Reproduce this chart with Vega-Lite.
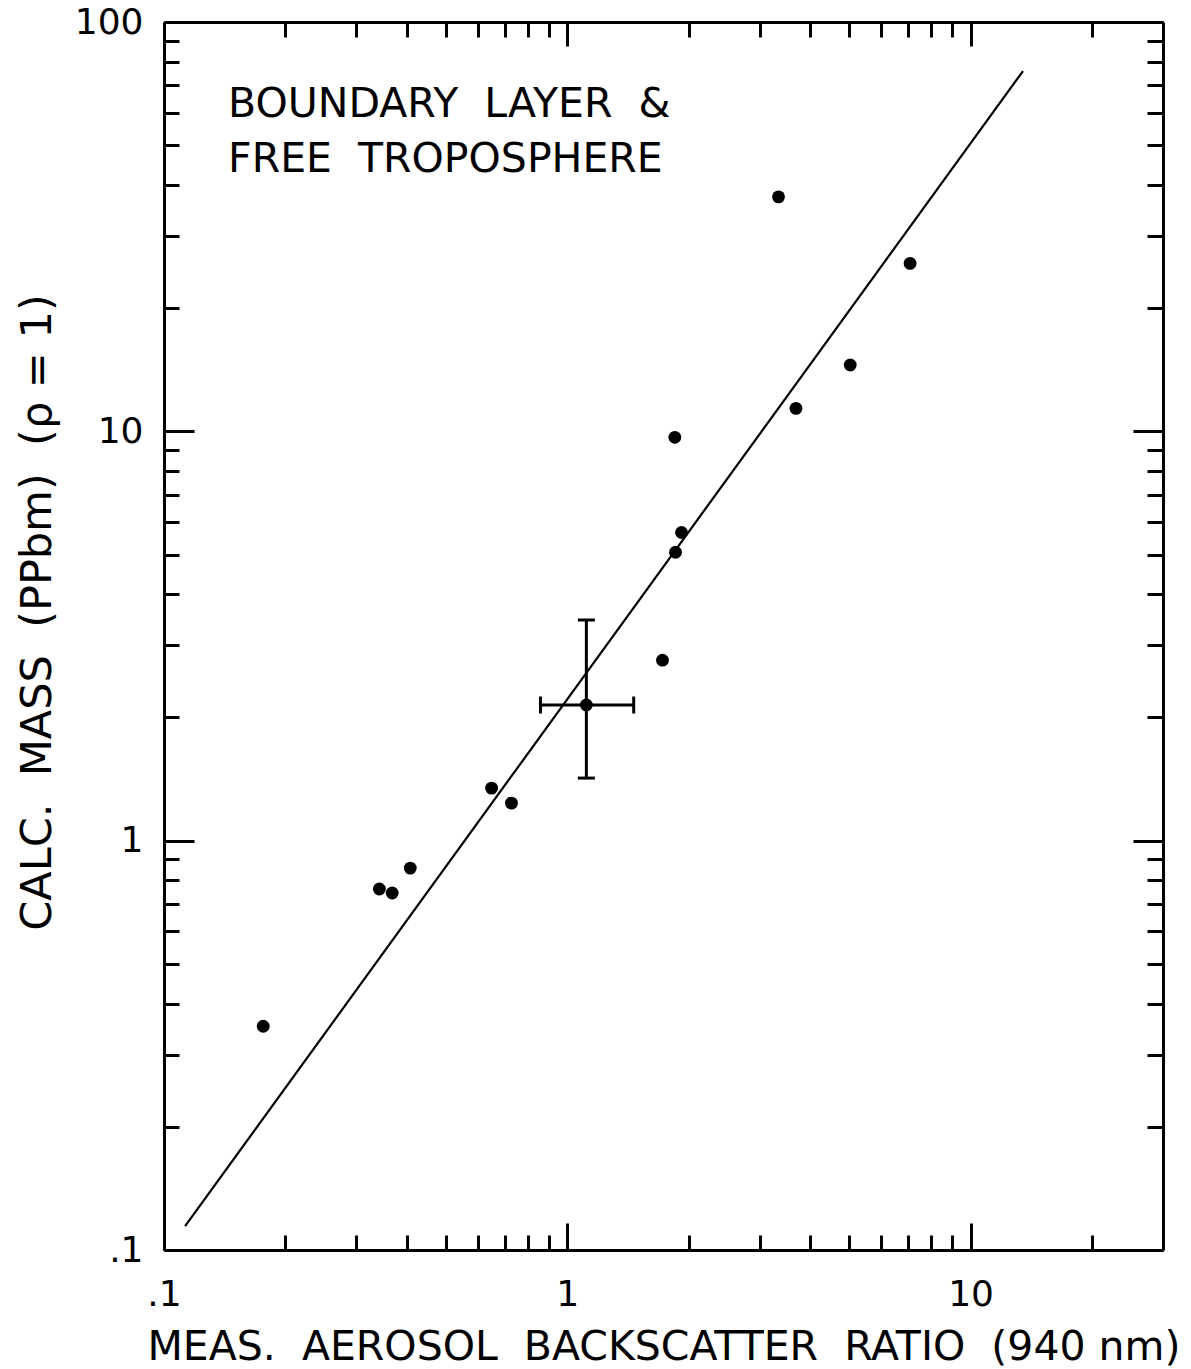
{
  "$schema": "https://vega.github.io/schema/vega-lite/v6.json",
  "width": 999,
  "height": 1228,
  "autosize": {"type": "none"},
  "padding": {"left": 164, "top": 22, "right": 28, "bottom": 119},
  "background": "white",
  "config": {
    "view": {"stroke": null},
    "axis": {
      "domainColor": "black",
      "domainWidth": 3,
      "tickColor": "black",
      "tickWidth": 3,
      "grid": false,
      "labelFont": "DejaVu Sans",
      "labelFontSize": 36,
      "labelColor": "black",
      "labelOverlap": false,
      "labelBound": false,
      "labelFlush": false,
      "titleFont": "DejaVu Sans",
      "titleFontSize": 42,
      "titleFontWeight": "normal",
      "titleColor": "black"
    }
  },
  "datasets": {
    "obs": [
      {"ratio": 0.1762, "mass": 0.352},
      {"ratio": 0.342, "mass": 0.762},
      {"ratio": 0.368, "mass": 0.745},
      {"ratio": 0.408, "mass": 0.857},
      {"ratio": 0.649, "mass": 1.344},
      {"ratio": 0.727, "mass": 1.235},
      {"ratio": 1.115, "mass": 2.145},
      {"ratio": 1.722, "mass": 2.76},
      {"ratio": 1.848, "mass": 9.67},
      {"ratio": 1.855, "mass": 5.065},
      {"ratio": 1.92, "mass": 5.66},
      {"ratio": 3.34, "mass": 37.4},
      {"ratio": 3.69, "mass": 11.38},
      {"ratio": 5.03, "mass": 14.52},
      {"ratio": 7.08, "mass": 25.72}
    ],
    "err": [
      {"ratio": 1.115, "mass": 2.145, "ratio_lo": 0.858, "ratio_hi": 1.461, "mass_lo": 1.422, "mass_hi": 3.46}
    ],
    "fit": [
      {"ratio": 0.1128, "mass": 0.1144},
      {"ratio": 13.49, "mass": 75.9}
    ],
    "note": [
      {"label": "BOUNDARY\u00a0 LAYER\u00a0 &", "ratio": 0.1442, "mass": 70.0},
      {"label": "FREE\u00a0 TROPOSPHERE", "ratio": 0.1442, "mass": 51.5}
    ]
  },
  "resolve": {"axis": {"x": "independent", "y": "independent"}},
  "layer": [
    {
      "data": {"name": "obs"},
      "mark": {"type": "circle", "size": 165, "color": "black", "opacity": 1},
      "encoding": {
        "x": {
          "field": "ratio",
          "type": "quantitative",
          "scale": {"type": "log", "domain": [0.1, 30], "nice": false},
          "axis": {
            "orient": "bottom",
            "values": [0.1, 0.2, 0.3, 0.4, 0.5, 0.6, 0.7, 0.8, 0.9, 1, 2, 3, 4, 5, 6, 7, 8, 9, 10, 20],
            "tickSize": {"condition": {"test": "datum.value == 0.1 || datum.value == 1 || datum.value == 10", "value": -27}, "value": -15},
            "labelExpr": "datum.value == 0.1 ? '.1' : (datum.value == 1 ? '1' : (datum.value == 10 ? '10' : ''))",
            "labelPadding": 54,
            "title": "MEAS.\u00a0 AEROSOL\u00a0 BACKSCATTER\u00a0 RATIO\u00a0 (940\u00a0nm)",
            "titleFontSize": 41,
            "titlePadding": 3
          }
        },
        "y": {
          "field": "mass",
          "type": "quantitative",
          "scale": {"type": "log", "domain": [0.1, 100], "nice": false},
          "axis": {
            "orient": "left",
            "values": [0.1, 0.2, 0.3, 0.4, 0.5, 0.6, 0.7, 0.8, 0.9, 1, 2, 3, 4, 5, 6, 7, 8, 9, 10, 20, 30, 40, 50, 60, 70, 80, 90, 100],
            "tickSize": {"condition": {"test": "datum.value == 0.1 || datum.value == 1 || datum.value == 10 || datum.value == 100", "value": -30}, "value": -15},
            "labelExpr": "datum.value == 0.1 ? '.1' : (datum.value == 1 ? '1' : (datum.value == 10 ? '10' : (datum.value == 100 ? '100' : '')))",
            "labelPadding": 51,
            "title": "CALC.\u00a0 MASS\u00a0 (PPbm)\u00a0 (ρ\u00a0=\u00a01)",
            "titleFontSize": 43,
            "titleY": 590,
            "titlePadding": 15
          }
        }
      }
    },
    {
      "data": {"name": "fit"},
      "mark": {"type": "line", "color": "black", "strokeWidth": 2.2},
      "encoding": {
        "x": {
          "field": "ratio",
          "type": "quantitative",
          "axis": {
            "orient": "top",
            "values": [0.1, 0.2, 0.3, 0.4, 0.5, 0.6, 0.7, 0.8, 0.9, 1, 2, 3, 4, 5, 6, 7, 8, 9, 10, 20],
            "tickSize": {"condition": {"test": "datum.value == 0.1 || datum.value == 1 || datum.value == 10", "value": -24}, "value": -15},
            "labels": false,
            "title": null
          }
        },
        "y": {
          "field": "mass",
          "type": "quantitative",
          "axis": {
            "orient": "right",
            "values": [0.1, 0.2, 0.3, 0.4, 0.5, 0.6, 0.7, 0.8, 0.9, 1, 2, 3, 4, 5, 6, 7, 8, 9, 10, 20, 30, 40, 50, 60, 70, 80, 90, 100],
            "tickSize": {"condition": {"test": "datum.value == 0.1 || datum.value == 1 || datum.value == 10 || datum.value == 100", "value": -30}, "value": -16},
            "labels": false,
            "title": null
          }
        }
      }
    },
    {
      "data": {"name": "err"},
      "mark": {"type": "errorbar", "color": "black", "opacity": 1, "thickness": 3, "ticks": {"size": 17, "thickness": 3, "color": "black", "opacity": 1}, "rule": {"color": "black", "opacity": 1, "strokeWidth": 3}},
      "encoding": {
        "x": {"field": "ratio_lo", "type": "quantitative", "axis": null},
        "x2": {"field": "ratio_hi"},
        "y": {"field": "mass", "type": "quantitative", "axis": null}
      }
    },
    {
      "data": {"name": "err"},
      "mark": {"type": "errorbar", "color": "black", "opacity": 1, "thickness": 3, "ticks": {"size": 17, "thickness": 3, "color": "black", "opacity": 1}, "rule": {"color": "black", "opacity": 1, "strokeWidth": 3}},
      "encoding": {
        "y": {"field": "mass_lo", "type": "quantitative", "axis": null},
        "y2": {"field": "mass_hi"},
        "x": {"field": "ratio", "type": "quantitative", "axis": null}
      }
    },
    {
      "data": {"name": "note"},
      "mark": {"type": "text", "align": "left", "baseline": "top", "font": "DejaVu Sans", "fontSize": 41, "color": "black"},
      "encoding": {
        "x": {"field": "ratio", "type": "quantitative", "axis": null},
        "y": {"field": "mass", "type": "quantitative", "axis": null},
        "text": {"field": "label"}
      }
    }
  ]
}
